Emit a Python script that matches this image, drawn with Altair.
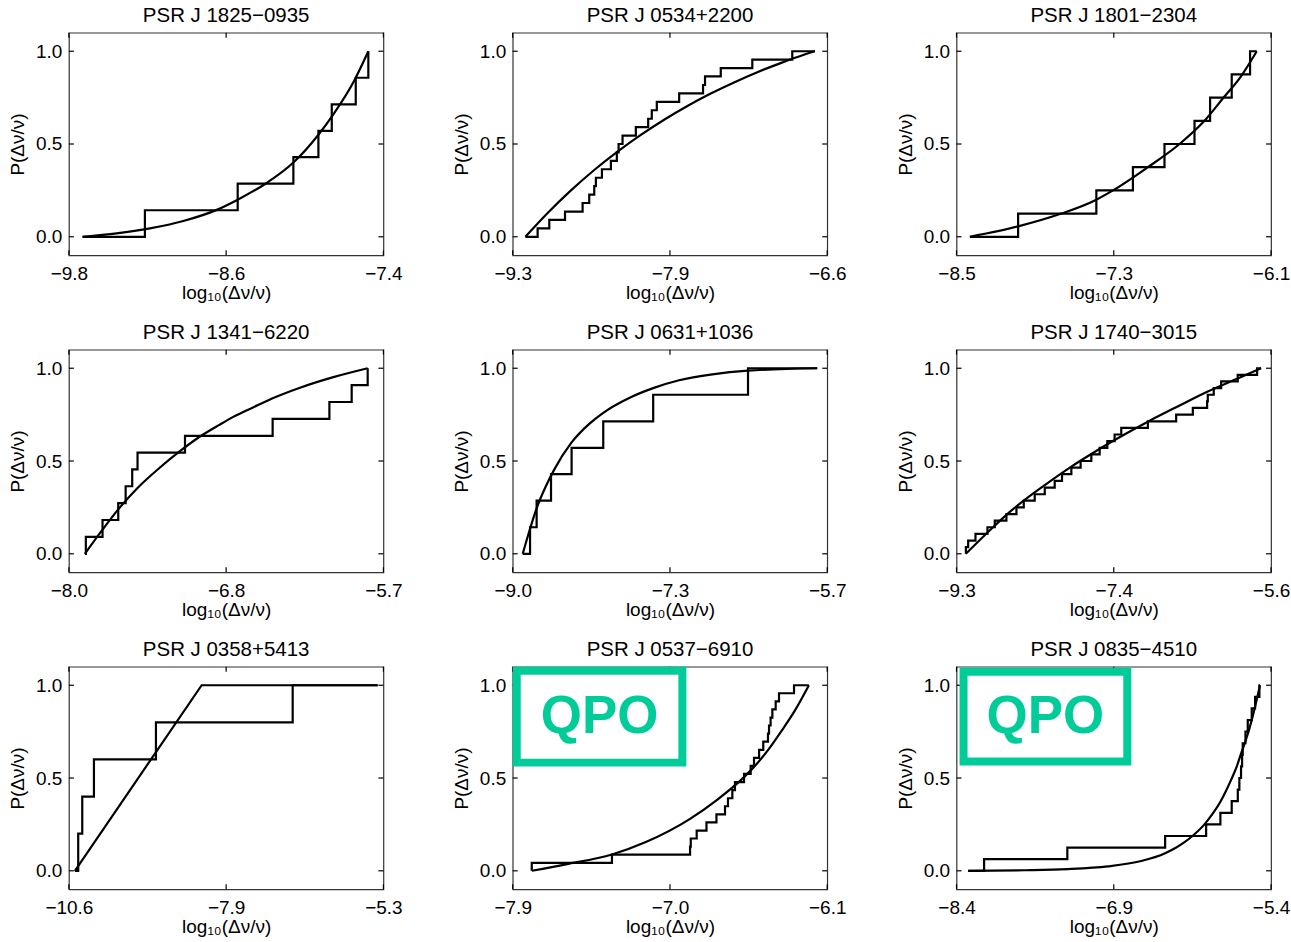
import altair as alt
import pandas as pd

# ---------------- data ----------------
names = ["PSR J 1825−0935", "PSR J 0534+2200", "PSR J 1801−2304",
         "PSR J 1341−6220", "PSR J 0631+1036", "PSR J 1740−3015",
         "PSR J 0358+5413", "PSR J 0537−6910", "PSR J 0835−4510"]

x_lo = [-9.8, -9.3, -8.5, -8.0, -9.0, -9.3, -10.6, -7.9, -8.4]
x_hi = [-7.4, -6.6, -6.1, -5.7, -5.7, -5.6, -5.3, -6.1, -5.4]
x_tick_labels = [["−9.8", "−8.6", "−7.4"], ["−9.3", "−7.9", "−6.6"], ["−8.5", "−7.3", "−6.1"],
                 ["−8.0", "−6.8", "−5.7"], ["−9.0", "−7.3", "−5.7"], ["−9.3", "−7.4", "−5.6"],
                 ["−10.6", "−7.9", "−5.3"], ["−7.9", "−7.0", "−6.1"], ["−8.4", "−6.9", "−5.4"]]
y_ticks = [0.0, 0.5, 1.0]

step_x = [
    [-9.696, -9.220, -8.512, -8.087, -7.896, -7.794, -7.611, -7.515],
    [-9.191, -9.086, -8.986, -8.851, -8.700, -8.643, -8.600, -8.586, -8.534, -8.457, -8.406, -8.391,
     -8.357, -8.243, -8.137, -8.106, -8.063, -7.871, -7.666, -7.649, -7.514, -7.243, -6.900, -6.706],
    [-8.398, -8.030, -7.433, -7.154, -6.913, -6.684, -6.565, -6.400, -6.260, -6.209],
    [-7.883, -7.876, -7.754, -7.639, -7.585, -7.537, -7.498, -7.151, -6.510, -6.095, -5.932, -5.815],
    [-8.895, -8.818, -8.749, -8.598, -8.382, -8.050, -7.526, -6.531, -5.805],
    [-9.190, -9.190, -9.163, -9.077, -8.936, -8.850, -8.713, -8.595, -8.509, -8.380, -8.262, -8.145,
     -8.059, -7.949, -7.840, -7.714, -7.616, -7.526, -7.440, -7.362, -7.049, -6.716, -6.520, -6.352,
     -6.344, -6.274, -6.187, -5.992, -5.764, -5.717],
    [-10.499, -10.443, -10.375, -10.178, -9.133, -6.829, -5.396],
    [-7.791, -7.791, -7.332, -6.885, -6.881, -6.847, -6.791, -6.734, -6.685, -6.668, -6.643, -6.628,
     -6.576, -6.538, -6.519, -6.490, -6.466, -6.439, -6.433, -6.424, -6.414, -6.395, -6.376, -6.290, -6.205],
    [-8.289, -8.137, -7.343, -6.410, -6.019, -5.883, -5.775, -5.717, -5.702, -5.686, -5.676, -5.670,
     -5.644, -5.622, -5.584, -5.552, -5.511, -5.505],
]
step_y = [
    [0.0, 0.143, 0.286, 0.429, 0.571, 0.714, 0.857, 1.0],
    [0.0, 0.045, 0.091, 0.136, 0.182, 0.227, 0.273, 0.318, 0.364, 0.409, 0.455, 0.5,
     0.545, 0.591, 0.636, 0.682, 0.727, 0.773, 0.818, 0.864, 0.909, 0.955, 1.0, 1.0],
    [0.0, 0.125, 0.25, 0.375, 0.5, 0.625, 0.75, 0.875, 1.0, 1.0],
    [0.0, 0.091, 0.182, 0.273, 0.364, 0.455, 0.545, 0.636, 0.727, 0.818, 0.909, 1.0],
    [0.0, 0.143, 0.286, 0.429, 0.571, 0.714, 0.857, 1.0, 1.0],
    [0.0, 0.036, 0.071, 0.107, 0.143, 0.179, 0.214, 0.25, 0.286, 0.321, 0.357, 0.393,
     0.429, 0.464, 0.5, 0.536, 0.571, 0.607, 0.643, 0.679, 0.714, 0.75, 0.786, 0.821,
     0.857, 0.893, 0.929, 0.964, 1.0, 1.0],
    [0.0, 0.2, 0.4, 0.6, 0.8, 1.0, 1.0],
    [0.0, 0.043, 0.087, 0.13, 0.174, 0.217, 0.261, 0.304, 0.348, 0.391, 0.435, 0.478,
     0.522, 0.565, 0.609, 0.652, 0.696, 0.739, 0.783, 0.826, 0.87, 0.913, 0.957, 1.0, 1.0],
    [0.0, 0.0625, 0.125, 0.1875, 0.25, 0.3125, 0.375, 0.4375, 0.5, 0.5625, 0.625, 0.6875,
     0.75, 0.8125, 0.875, 0.9375, 1.0, 1.0],
]

curve_x = [
    [-9.696, -9.436, -9.182, -8.927, -8.672, -8.512, -8.291, -8.087, -7.896, -7.782, -7.624, -7.515],
    [-9.191, -9.0, -8.8, -8.6, -8.4, -8.2, -8.0, -7.8, -7.6, -7.4, -7.2, -7.0, -6.8, -6.706],
    [-8.398, -8.030, -7.700, -7.433, -7.306, -7.040, -6.798, -6.608, -6.468, -6.329, -6.209],
    [-7.883, -7.754, -7.627, -7.498, -7.334, -7.188, -7.041, -6.900, -6.798, -6.650, -6.510, -6.310,
     -6.066, -5.815],
    [-8.895, -8.818, -8.749, -8.651, -8.563, -8.382, -8.197, -8.050, -7.778, -7.526, -7.254, -6.905,
     -6.531, -5.805],
    [-9.190, -8.889, -8.693, -8.262, -7.949, -7.714, -7.440, -7.049, -6.716, -6.344, -5.992, -5.717],
    [-10.499, -8.363, -5.396],
    [-7.791, -7.595, -7.332, -7.138, -6.885, -6.734, -6.576, -6.500, -6.439, -6.357, -6.281, -6.205],
    [-8.289, -7.749, -7.343, -6.956, -6.638, -6.410, -6.300, -6.225, -6.130, -6.035, -5.960, -5.883,
     -5.830, -5.781, -5.730, -5.686, -5.640, -5.590, -5.550, -5.505],
]
curve_y = [
    [0.0, 0.018, 0.045, 0.085, 0.145, 0.2, 0.29, 0.4, 0.55, 0.66, 0.84, 1.0],
    [0.0, 0.128, 0.25, 0.36, 0.459, 0.549, 0.631, 0.705, 0.772, 0.832, 0.887, 0.936, 0.981, 1.0],
    [0.0, 0.056, 0.125, 0.2, 0.25, 0.375, 0.5, 0.625, 0.745, 0.865, 1.0],
    [0.0, 0.13, 0.25, 0.355, 0.465, 0.553, 0.632, 0.695, 0.738, 0.79, 0.838, 0.895, 0.952, 1.0],
    [0.0, 0.135, 0.245, 0.365, 0.455, 0.6, 0.7, 0.76, 0.84, 0.893, 0.935, 0.967, 0.987, 1.0],
    [0.0, 0.135, 0.218, 0.37, 0.47, 0.538, 0.613, 0.712, 0.79, 0.875, 0.945, 1.0],
    [0.0, 1.0, 1.0],
    [0.0, 0.035, 0.088, 0.155, 0.28, 0.38, 0.505, 0.58, 0.65, 0.76, 0.87, 1.0],
    [0.0, 0.003, 0.009, 0.024, 0.053, 0.095, 0.127, 0.154, 0.197, 0.25, 0.305, 0.372,
     0.43, 0.49, 0.557, 0.632, 0.705, 0.8, 0.89, 1.0],
]
curve_interp = ["monotone", "monotone", "monotone", "monotone", "monotone", "monotone",
                "linear", "monotone", "monotone"]

# QPO annotation boxes (data units of their panels)
qpo_panels = [7, 8]
qpo_x1 = [-7.877, -8.333]
qpo_x2 = [-6.929, -6.771]
qpo_y1 = [0.583, 0.589]
qpo_y2 = [1.078, 1.073]
qpo_tx = [-7.403, -7.552]
qpo_ty = [0.831, 0.831]
qpo_text = "QPO"

# ---------------- styling ----------------
W, H = 315, 223
TICK = 5
FONT = "Liberation Sans"
GREEN = "#00CC99"
FRAME = "#333333"
LW = 2.2


def make_panel(i):
    lo, hi = x_lo[i], x_hi[i]
    mid = (lo + hi) / 2.0
    labs = x_tick_labels[i]
    q1 = lo + 0.25 * (hi - lo)
    q3 = hi - 0.25 * (hi - lo)
    lexpr = (f"datum.value < {q1} ? '{labs[0]}' : "
             f"(datum.value > {q3} ? '{labs[2]}' : '{labs[1]}')")
    xs = alt.Scale(domain=[lo, hi], nice=False, zero=False)
    ys = alt.Scale(domain=[-0.1, 1.1], nice=False, zero=False)
    xv = [lo, mid, hi]

    step_df = pd.DataFrame({"x": step_x[i], "y": step_y[i], "k": list(range(len(step_x[i])))})
    curve_df = pd.DataFrame({"x": curve_x[i], "y": curve_y[i], "k": list(range(len(curve_x[i])))})
    xt_df = pd.DataFrame({"v": xv})
    yt_df = pd.DataFrame({"v": y_ticks})

    step = alt.Chart(step_df).mark_line(
        interpolate="step-after", color="black", strokeWidth=LW
    ).encode(
        x=alt.X("x:Q", scale=xs, axis=alt.Axis(
            orient="bottom", values=xv, labelExpr=lexpr, title="log₁₀(Δν/ν)",
            ticks=False, tickSize=0, domain=False, grid=False, labelFlush=False,
            labelPadding=9, titlePadding=0)),
        y=alt.Y("y:Q", scale=ys, axis=alt.Axis(
            orient="left", values=y_ticks, format=".1f", title="P(Δν/ν)",
            ticks=False, tickSize=0, domain=False, grid=False,
            labelPadding=7, titlePadding=8)),
        order=alt.Order("k:Q"),
    )

    curve = alt.Chart(curve_df).mark_line(
        interpolate=curve_interp[i], color="black", strokeWidth=LW
    ).encode(
        x=alt.X("x:Q", scale=xs, axis=None),
        y=alt.Y("y:Q", scale=ys, axis=None),
        order=alt.Order("k:Q"),
    )

    # inward tick marks on all four sides of the frame
    xt_bottom = alt.Chart(xt_df).mark_rule(color="black", strokeWidth=1.2).encode(
        x=alt.X("v:Q", scale=xs, axis=None), y=alt.value(H), y2=alt.value(H - TICK))
    xt_top = alt.Chart(xt_df).mark_rule(color="black", strokeWidth=1.2).encode(
        x=alt.X("v:Q", scale=xs, axis=None), y=alt.value(0), y2=alt.value(TICK))
    yt_left = alt.Chart(yt_df).mark_rule(color="black", strokeWidth=1.2).encode(
        y=alt.Y("v:Q", scale=ys, axis=None), x=alt.value(0), x2=alt.value(TICK))
    yt_right = alt.Chart(yt_df).mark_rule(color="black", strokeWidth=1.2).encode(
        y=alt.Y("v:Q", scale=ys, axis=None), x=alt.value(W), x2=alt.value(W - TICK))

    layers = [step, curve, xt_bottom, xt_top, yt_left, yt_right]
    if i in qpo_panels:
        j = qpo_panels.index(i)
        box_df = pd.DataFrame({"x1": [qpo_x1[j]], "x2": [qpo_x2[j]],
                               "y1": [qpo_y1[j]], "y2": [qpo_y2[j]]})
        txt_df = pd.DataFrame({"x": [qpo_tx[j]], "y": [qpo_ty[j]], "t": [qpo_text]})
        box = alt.Chart(box_df).mark_rect(
            fillOpacity=0, stroke=GREEN, strokeWidth=8
        ).encode(
            x=alt.X("x1:Q", scale=xs, axis=None), x2="x2:Q",
            y=alt.Y("y1:Q", scale=ys, axis=None), y2="y2:Q",
        )
        txt = alt.Chart(txt_df).mark_text(
            font=FONT, fontSize=53, fontWeight="bold", color=GREEN,
            align="center", baseline="middle"
        ).encode(
            x=alt.X("x:Q", scale=xs, axis=None),
            y=alt.Y("y:Q", scale=ys, axis=None),
            text="t:N",
        )
        layers += [box, txt]

    return alt.layer(*layers).resolve_axis(
        x="independent", y="independent"
    ).properties(
        width=W, height=H,
        title=alt.Title(names[i], font=FONT, fontSize=20.5, fontWeight="normal",
                        color="black", offset=-10, baseline="alphabetic", anchor="middle"),
    )


panels = [make_panel(i) for i in range(9)]

chart = alt.concat(
    *panels, columns=3,
    spacing=alt.RowColnumber(row=94.5, column=129.5),
    bounds="flush",
).properties(
    padding={"left": 7, "top": 4, "right": 0, "bottom": 0},
).configure_view(
    stroke=FRAME, strokeWidth=1.2
).configure_axis(
    labelFont=FONT, labelFontSize=19, labelColor="black",
    titleFont=FONT, titleFontSize=19, titleColor="black", titleFontWeight="normal",
)

chart.save("out.html", embed_options={"renderer": "svg", "actions": False})
